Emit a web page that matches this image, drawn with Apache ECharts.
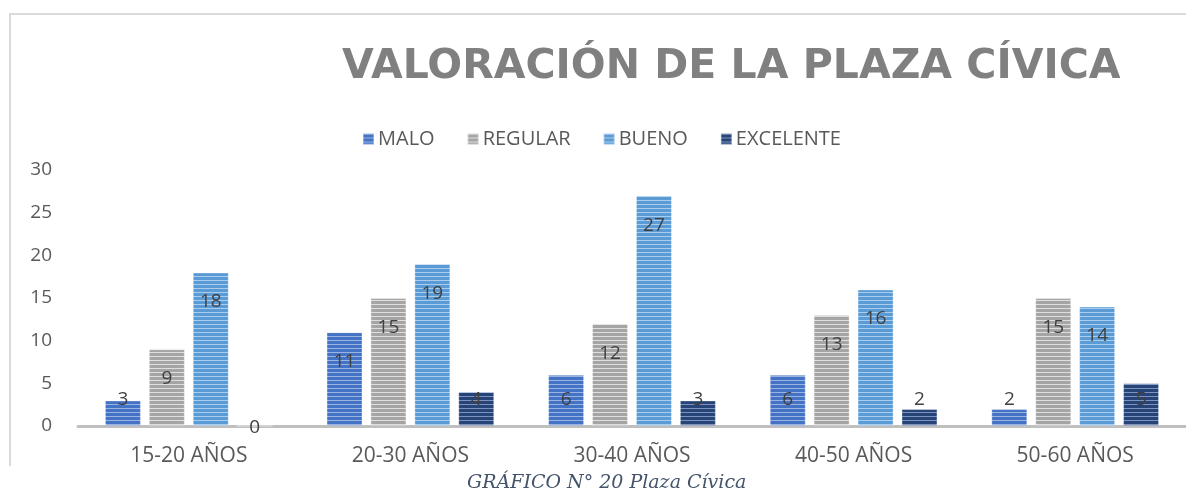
<!DOCTYPE html>
<html>
<head>
<meta charset="utf-8">
<script src="https://cdn.jsdelivr.net/npm/echarts@6/dist/echarts.min.js"></script>
<style>
html, body { margin: 0; padding: 0; background: #fff; }
#chart { width: 1186px; height: 490px; }
</style>
</head>
<body>
<div id="chart"></div>
<script>
var categories = ['15-20 AÑOS', '20-30 AÑOS', '30-40 AÑOS', '40-50 AÑOS', '50-60 AÑOS'];
var seriesNames = ['MALO', 'REGULAR', 'BUENO', 'EXCELENTE'];
var malo = [3, 11, 6, 6, 2];
var regular = [9, 15, 12, 13, 15];
var bueno = [18, 19, 27, 16, 14];
var excelente = [0, 4, 3, 2, 5];
var yTicks = [0, 5, 10, 15, 20, 25, 30];

// striped fill like the office chart style
function stripes(base, light) {
    var c = document.createElement('canvas');
    c.width = 4;
    c.height = 4;
    var g = c.getContext('2d');
    g.fillStyle = base;
    g.fillRect(0, 0, 4, 4);
    g.fillStyle = light;
    g.fillRect(0, 0, 4, 1);
    return { image: c, repeat: 'repeat' };
}

var fills = [
    stripes('#4472c4', '#9bb3e2'),
    stripes('#a5a5a5', '#dedede'),
    stripes('#5b9bd5', '#a9cdee'),
    stripes('#264478', '#7d93bd')
];

function labelFor(v) {
    if (v === 0) return { position: 'inside', offset: [0, 2] };
    if (v < 7) return { position: 'insideBottom', distance: 17 };
    return { position: 'insideTop', distance: 20 };
}

function toData(arr) {
    return arr.map(function (v) {
        return { value: v, label: labelFor(v) };
    });
}

var chart = echarts.init(document.getElementById('chart'));
var lists = [malo, regular, bueno, excelente];

var option = {
    animation: false,
    title: [{
        text: 'VALORACIÓN DE LA PLAZA CÍVICA',
        left: 337,
        top: 42,
        textStyle: {
            color: '#808080',
            fontFamily: 'DejaVu Sans',
            fontWeight: 'bold',
            fontSize: 41
        }
    }, {
        text: 'GRÁFICO N° 20 Plaza Cívica',
        left: 462,
        top: 469,
        textStyle: {
            color: '#44546a',
            fontFamily: 'DejaVu Serif',
            fontStyle: 'italic',
            fontWeight: 'normal',
            fontSize: 19
        }
    }],
    legend: {
        data: seriesNames,
        left: 357,
        top: 124,
        itemWidth: 11,
        itemHeight: 11,
        itemGap: 32,
        icon: 'rect',
        textStyle: {
            color: '#595959',
            fontFamily: 'Open Sans',
            fontSize: 20,
            padding: [0, 0, 0, -1]
        }
    },
    graphic: [{
        type: 'polyline',
        shape: { points: [[10, 466], [10, 14], [1186, 14]] },
        style: { stroke: '#d9d9d9', lineWidth: 2, fill: null },
        silent: true
    }],
    grid: {
        left: 78,
        top: 170,
        width: 1120,
        height: 256
    },
    xAxis: {
        type: 'category',
        data: categories,
        axisLine: { lineStyle: { color: '#bfbfbf', width: 3 } },
        axisTick: { show: false },
        axisLabel: {
            color: '#595959',
            fontFamily: 'Open Sans',
            fontSize: 21,
            margin: 20
        }
    },
    yAxis: {
        type: 'value',
        min: yTicks[0],
        max: yTicks[yTicks.length - 1],
        interval: 5,
        axisLine: { show: false },
        axisTick: { show: false },
        splitLine: { show: false },
        axisLabel: {
            color: '#595959',
            fontFamily: 'Open Sans',
            fontSize: 19,
            margin: 26
        }
    },
    series: seriesNames.map(function (name, i) {
        return {
            name: name,
            type: 'bar',
            data: toData(lists[i]),
            barWidth: 36,
            barGap: '22%',
            itemStyle: {
                color: fills[i],
                borderColor: 'rgba(255,255,255,0.35)',
                borderWidth: 1
            },
            label: {
                show: true,
                color: '#404040',
                fontFamily: 'Open Sans',
                fontSize: 19
            }
        };
    })
};

chart.setOption(option);
</script>
</body>
</html>
